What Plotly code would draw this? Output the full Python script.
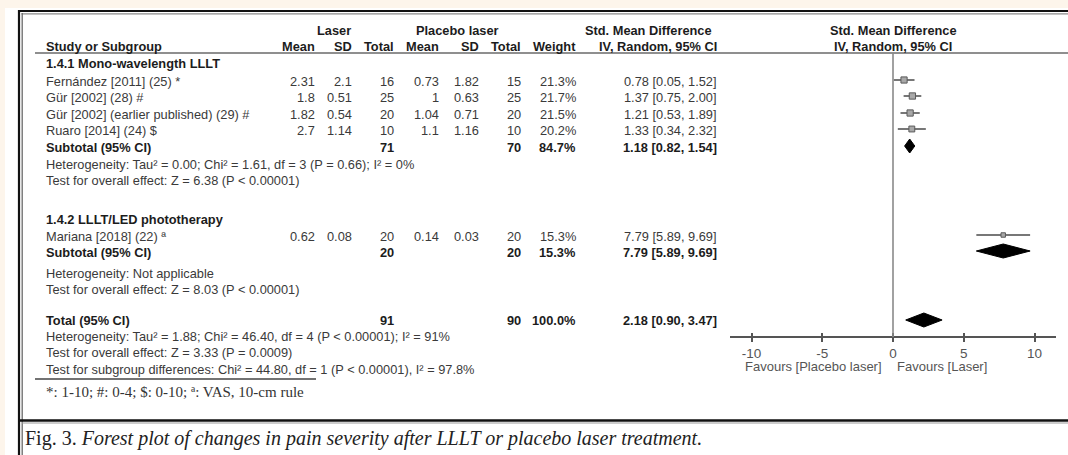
import plotly.graph_objects as go

W, H = 1068, 455

# ---------------- data ----------------
studies = [
    "Fernández [2011] (25) *",
    "Gür [2002] (28) #",
    "Gür [2002] (earlier published) (29) #",
    "Ruaro [2014] (24) $",
    "Mariana [2018] (22) ª",
]
study_group = [0, 0, 0, 0, 1]
laser_mean = [2.31, 1.8, 1.82, 2.7, 0.62]
laser_sd = [2.1, 0.51, 0.54, 1.14, 0.08]
laser_n = [16, 25, 20, 10, 20]
placebo_mean = [0.73, 1, 1.04, 1.1, 0.14]
placebo_sd = [1.82, 0.63, 0.71, 1.16, 0.03]
placebo_n = [15, 25, 20, 10, 20]
weight = [21.3, 21.7, 21.5, 20.2, 15.3]
smd = [0.78, 1.37, 1.21, 1.33, 7.79]
ci_low = [0.05, 0.75, 0.53, 0.34, 5.89]
ci_high = [1.52, 2.00, 1.89, 2.32, 9.69]

groups = ["1.4.1 Mono-wavelength LLLT", "1.4.2 LLLT/LED phototherapy"]
group_laser_n = [71, 20]
group_placebo_n = [70, 20]
group_weight = [84.7, 15.3]
group_smd = [1.18, 7.79]
group_low = [0.82, 5.89]
group_high = [1.54, 9.69]
group_heterogeneity = [
    "Heterogeneity: Tau² = 0.00; Chi² = 1.61, df = 3 (P = 0.66); I² = 0%",
    "Heterogeneity: Not applicable",
]
group_effect = [
    "Test for overall effect: Z = 6.38 (P < 0.00001)",
    "Test for overall effect: Z = 8.03 (P < 0.00001)",
]

total_laser_n = 91
total_placebo_n = 90
total_weight = 100.0
total_smd = 2.18
total_low = 0.90
total_high = 3.47
total_notes = [
    "Heterogeneity: Tau² = 1.88; Chi² = 46.40, df = 4 (P < 0.00001); I² = 91%",
    "Test for overall effect: Z = 3.33 (P = 0.0009)",
    "Test for subgroup differences: Chi² = 44.80, df = 1 (P < 0.00001), I² = 97.8%",
]

axis_ticks = [-10, -5, 0, 5, 10]
favours_left = "Favours [Placebo laser]"
favours_right = "Favours [Laser]"
footnote = "*: 1-10; #: 0-4; $: 0-10; ª: VAS, 10-cm rule"
caption_lead = "Fig. 3. "
caption_body = "Forest plot of changes in pain severity after LLLT or placebo laser treatment."

# ---------------- layout geometry (pixels) ----------------
SANS = "Liberation Sans, Arial, sans-serif"
SERIF = "Liberation Serif, Times New Roman, serif"
TXT = "#3a3a3a"
BOLD = "#1c1c1c"
FS = 12.8

ZERO_PX = 893
PX_PER_UNIT = 14.15
AX_LEFT, AX_RIGHT = 730, 1056
AXIS_Y = 337
x_range = [(AX_LEFT - ZERO_PX) / PX_PER_UNIT, (AX_RIGHT - ZERO_PX) / PX_PER_UNIT]

COL_LABEL = 45
COL_L_MEAN, COL_L_SD, COL_L_N = 316, 353, 395
COL_P_MEAN, COL_P_SD, COL_P_N = 440, 480, 522
COL_WEIGHT, COL_CI = 577, 718

group_title_y = [63, 219]
study_y = [81, 97, 114, 130, 236]
subtotal_y = [147, 252]
het_y = [164, 273]
effect_y = [180, 289]
total_y = 320
total_note_y = [336, 352, 369]

fig = go.Figure()
ann = []


def px(x):
    return x / W


def text(x, y, s, anchor="left", bold=False, size=FS, color=None, family=SANS):
    if bold:
        s = f"<b>{s}</b>"
    ann.append(dict(
        x=px(x), y=y, xref="paper", yref="y", text=s, showarrow=False,
        xanchor=anchor, yanchor="middle", borderpad=0,
        font=dict(family=family, size=size, color=color or (BOLD if bold else TXT)),
    ))


def fmt_ci(e, lo, hi):
    return f"{e:.2f} [{lo:.2f}, {hi:.2f}]"


# ---------------- column headers ----------------
text(334, 30, "Laser", "center", True)
text(457, 30, "Placebo laser", "center", True)
text(648, 30, "Std. Mean Difference", "center", True)
text(893, 30, "Std. Mean Difference", "center", True)
text(COL_LABEL, 46, "Study or Subgroup", "left", True)
for x, s in [(COL_L_MEAN, "Mean"), (COL_L_SD, "SD"), (COL_L_N, "Total"),
             (COL_P_MEAN, "Mean"), (COL_P_SD, "SD"), (COL_P_N, "Total"),
             (COL_WEIGHT, "Weight")]:
    text(x, 46, s, "right", True)
text(658, 46, "IV, Random, 95% CI", "center", True)
text(893, 46, "IV, Random, 95% CI", "center", True)

# ---------------- study rows ----------------
for i, name in enumerate(studies):
    y = study_y[i]
    text(COL_LABEL, y, name)
    text(COL_L_MEAN, y, f"{laser_mean[i]:g}", "right")
    text(COL_L_SD, y, f"{laser_sd[i]:g}", "right")
    text(COL_L_N, y, f"{laser_n[i]}", "right")
    text(COL_P_MEAN, y, f"{placebo_mean[i]:g}", "right")
    text(COL_P_SD, y, f"{placebo_sd[i]:g}", "right")
    text(COL_P_N, y, f"{placebo_n[i]}", "right")
    text(COL_WEIGHT, y, f"{weight[i]:.1f}%", "right")
    text(COL_CI, y, fmt_ci(smd[i], ci_low[i], ci_high[i]), "right")

    # confidence interval and weighted square
    fig.add_trace(go.Scatter(
        x=[ci_low[i], ci_high[i]], y=[y - 1, y - 1], mode="lines",
        line=dict(color="#777777", width=2), hoverinfo="skip", showlegend=False,
    ))
    fig.add_trace(go.Scatter(
        x=[smd[i]], y=[y - 1], mode="markers",
        marker=dict(symbol="square", size=weight[i] * 0.29, color="#a8a8a8",
                    line=dict(color="#5a5a5a", width=1)),
        hoverinfo="skip", showlegend=False,
    ))

# ---------------- subgroup blocks ----------------
DIAMOND_HALF = 7


def diamond(est, lo, hi, y):
    fig.add_trace(go.Scatter(
        x=[lo, est, hi, est, lo], y=[y, y - DIAMOND_HALF, y, y + DIAMOND_HALF, y],
        mode="lines", fill="toself", fillcolor="#000000",
        line=dict(color="#000000", width=1), hoverinfo="skip", showlegend=False,
    ))


for g, title in enumerate(groups):
    text(COL_LABEL, group_title_y[g], title, "left", True)
    y = subtotal_y[g]
    text(COL_LABEL, y, "Subtotal (95% CI)", "left", True)
    text(COL_L_N, y, f"{group_laser_n[g]}", "right", True)
    text(COL_P_N, y, f"{group_placebo_n[g]}", "right", True)
    text(COL_WEIGHT, y, f"{group_weight[g]:.1f}%", "right", True)
    text(COL_CI, y, fmt_ci(group_smd[g], group_low[g], group_high[g]), "right", True)
    text(COL_LABEL, het_y[g], group_heterogeneity[g])
    text(COL_LABEL, effect_y[g], group_effect[g])
    diamond(group_smd[g], group_low[g], group_high[g], y - 1)

# ---------------- overall ----------------
text(COL_LABEL, total_y, "Total (95% CI)", "left", True)
text(COL_L_N, total_y, f"{total_laser_n}", "right", True)
text(COL_P_N, total_y, f"{total_placebo_n}", "right", True)
text(COL_WEIGHT, total_y, f"{total_weight:.1f}%", "right", True)
text(COL_CI, total_y, fmt_ci(total_smd, total_low, total_high), "right", True)
for y, s in zip(total_note_y, total_notes):
    text(COL_LABEL, y, s)
diamond(total_smd, total_low, total_high, total_y)

text(883, 366, favours_left, "right", size=13, color="#555555")
text(896, 366, favours_right, "left", size=13, color="#555555")

text(COL_LABEL, 392, footnote, "left", size=15, color="#333333", family=SERIF)
text(24, 438, caption_lead + f"<i>{caption_body}</i>", "left", size=20,
     color="#222222", family=SERIF)

# keeps the inner tick axis alive
fig.add_trace(go.Scatter(x=[], y=[], xaxis="x2", yaxis="y", showlegend=False))

# ---------------- frame and rules ----------------
shapes = [
    dict(type="rect", xref="paper", yref="paper", x0=px(5), x1=1, y0=0, y1=1 - 8 / H,
         fillcolor="#ffffff", line=dict(width=0), layer="below"),
    # outer double border
    dict(type="line", xref="paper", yref="y", x0=px(18), x1=1, y0=11, y1=11,
         line=dict(color="#111111", width=2.2)),
    dict(type="line", xref="paper", yref="y", x0=px(21.5), x1=1, y0=13.8, y1=13.8,
         line=dict(color="#8a8a8a", width=1.3)),
    dict(type="line", xref="paper", yref="y", x0=px(19), x1=px(19), y0=10, y1=H,
         line=dict(color="#111111", width=2.2)),
    dict(type="line", xref="paper", yref="y", x0=px(22.2), x1=px(22.2), y0=13, y1=H,
         line=dict(color="#6a6a6a", width=1.3)),
    # caption separator
    dict(type="line", xref="paper", yref="y", x0=px(19), x1=1, y0=420.5, y1=420.5,
         line=dict(color="#111111", width=2.5)),
    dict(type="line", xref="paper", yref="y", x0=px(22), x1=1, y0=423, y1=423,
         line=dict(color="#9a9a9a", width=1)),
    # header underline
    dict(type="line", xref="paper", yref="y", x0=px(35), x1=1, y0=53, y1=53,
         line=dict(color="#6a6a6a", width=1.6)),
    # summary underline
    dict(type="line", xref="paper", yref="y", x0=px(35), x1=px(316), y0=379, y1=379,
         line=dict(color="#444444", width=1.6)),
    # line of no effect
    dict(type="line", xref="x", yref="y", x0=0, x1=0, y0=53, y1=AXIS_Y,
         line=dict(color="#8a8a8a", width=1.6)),
]

axis_common = dict(
    domain=[px(AX_LEFT), px(AX_RIGHT)], range=x_range, anchor="free",
    position=1 - AXIS_Y / H, showgrid=False, zeroline=False, fixedrange=True,
    tickvals=axis_ticks, tickcolor="#555555", tickwidth=1.5, ticklen=4,
)

fig.update_layout(
    width=W, height=H,
    margin=dict(l=0, r=0, t=0, b=0),
    paper_bgcolor="#fdf5eb",
    plot_bgcolor="rgba(0,0,0,0)",
    showlegend=False,
    xaxis=dict(
        **axis_common, showline=True, linecolor="#555555", linewidth=1.5,
        ticks="outside", ticktext=[f"{t}" for t in axis_ticks],
        tickfont=dict(family=SANS, size=13.5, color="#555555"),
    ),
    xaxis2=dict(
        **axis_common, overlaying="x", showline=False, ticks="inside",
        showticklabels=False,
    ),
    yaxis=dict(range=[H, 0], domain=[0, 1], visible=False, fixedrange=True),
    shapes=shapes,
    annotations=ann,
)

fig.write_html("out.html", config={"displayModeBar": False})
